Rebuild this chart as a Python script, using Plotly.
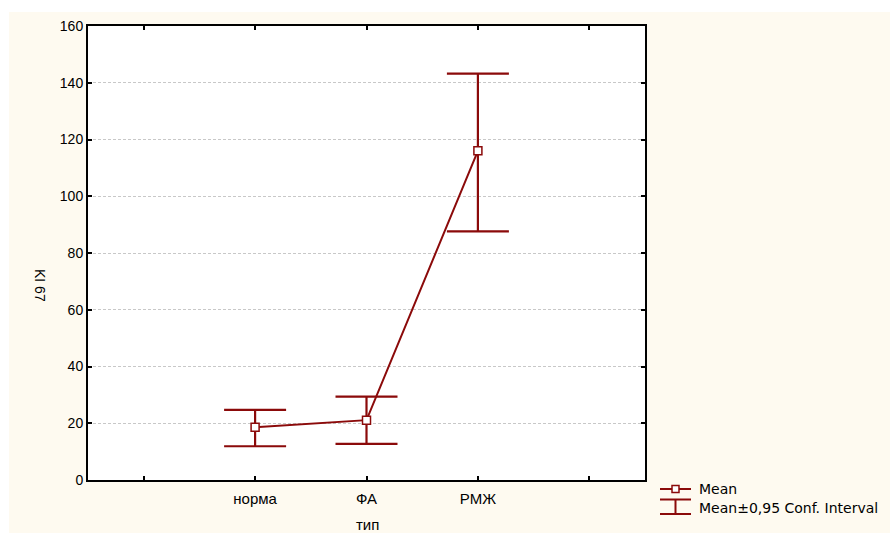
import plotly.graph_objects as go

# Ki-67 by group: mean and 95% confidence interval bounds
categories = ["норма", "ФА", "РМЖ"]
mean_vals = [18.6, 21.1, 116.0]
ci_upper = [24.7, 29.4, 143.2]
ci_lower = [11.9, 12.7, 87.6]

# x axis: five tick slots, groups sit in the middle three
tick_slots = [1, 2, 3, 4, 5]
tick_text = ["", "норма", "ФА", "РМЖ", ""]
x_pos = [tick_slots[i + 1] for i in range(len(categories))]

y_ticks = [0, 20, 40, 60, 80, 100, 120, 140, 160]

RED = "#8b0a0a"
CREAM = "#fefaf0"
FONT = "Liberation Sans, Arial, sans-serif"
LEGEND_FONT = "DejaVu Sans, Verdana, sans-serif"

W, H = 890, 533
L, R, T, B = 88, 245, 26, 53
PW, PH = W - L - R, H - T - B


def px(x):
    return (x - L) / PW


def py(y):
    return (H - B - y) / PH


fig = go.Figure()
fig.add_trace(go.Scatter(
    x=x_pos,
    y=mean_vals,
    mode="lines+markers",
    line=dict(color=RED, width=2),
    marker=dict(symbol="square", size=8, color="white",
                line=dict(color=RED, width=1.5)),
    error_y=dict(
        type="data", symmetric=False,
        array=[u - m for u, m in zip(ci_upper, mean_vals)],
        arrayminus=[m - lo for m, lo in zip(mean_vals, ci_lower)],
        color=RED, thickness=2.2, width=31,
    ),
    showlegend=False,
    cliponaxis=False,
))

shapes = [
    # cream panel behind the whole chart
    dict(type="rect", xref="paper", yref="paper", layer="below",
         x0=px(9), x1=px(W + 2), y0=py(12), y1=py(H + 2),
         fillcolor=CREAM, line=dict(width=0)),
    # white plotting area
    dict(type="rect", xref="paper", yref="paper", layer="below",
         x0=0, x1=1, y0=0, y1=1, fillcolor="white", line=dict(width=0)),
    # legend glyph: mean line
    dict(type="line", xref="paper", yref="paper",
         x0=px(660), x1=px(691), y0=py(489), y1=py(489),
         line=dict(color=RED, width=2)),
    dict(type="rect", xref="paper", yref="paper",
         x0=px(672), x1=px(679), y0=py(485.5), y1=py(492.5),
         fillcolor="white", line=dict(color=RED, width=1.5)),
    # legend glyph: confidence interval whisker
    dict(type="line", xref="paper", yref="paper",
         x0=px(660), x1=px(691), y0=py(499.5), y1=py(499.5),
         line=dict(color=RED, width=2)),
    dict(type="line", xref="paper", yref="paper",
         x0=px(660), x1=px(691), y0=py(514), y1=py(514),
         line=dict(color=RED, width=2)),
    dict(type="line", xref="paper", yref="paper",
         x0=px(675.5), x1=px(675.5), y0=py(499.5), y1=py(514),
         line=dict(color=RED, width=2)),
]

annotations = [
    dict(text="KI 67", xref="paper", yref="paper", x=px(40), y=py(285),
         xanchor="center", yanchor="middle",
         textangle=90, showarrow=False, font=dict(size=14, color="black")),
    dict(text="тип", xref="paper", yref="paper", x=px(367), y=py(524),
         xanchor="center", yanchor="middle",
         showarrow=False, font=dict(size=15, color="black")),
    dict(text="Mean", xref="paper", yref="paper", x=px(697), y=py(489),
         xanchor="left", yanchor="middle", showarrow=False,
         font=dict(size=14, color="black", family=LEGEND_FONT)),
    dict(text="Mean±0,95 Conf. Interval", xref="paper", yref="paper",
         x=px(697), y=py(508), xanchor="left", yanchor="middle",
         showarrow=False,
         font=dict(size=14, color="black", family=LEGEND_FONT)),
]

axis_common = dict(
    showline=True, linecolor="black", linewidth=2, mirror="ticks",
    ticks="inside", ticklen=4, tickwidth=1.5, tickcolor="black",
    zeroline=False,
)

fig.update_layout(
    width=W, height=H,
    margin=dict(l=L, r=R, t=T, b=B, pad=0),
    paper_bgcolor="white",
    plot_bgcolor="rgba(0,0,0,0)",
    font=dict(family=FONT, color="black"),
    xaxis=dict(range=[0.5, 5.5], tickvals=tick_slots, ticktext=tick_text,
               showgrid=False, tickfont=dict(size=15, color="black"),
               ticklabelstandoff=4, **axis_common),
    yaxis=dict(range=[0, 160], tickvals=y_ticks, showgrid=True,
               gridcolor="#c8c8c8", griddash="3px,2px", gridwidth=1,
               tickfont=dict(size=14, color="black"), **axis_common),
    shapes=shapes,
    annotations=annotations,
)

fig.write_html("out.html")
